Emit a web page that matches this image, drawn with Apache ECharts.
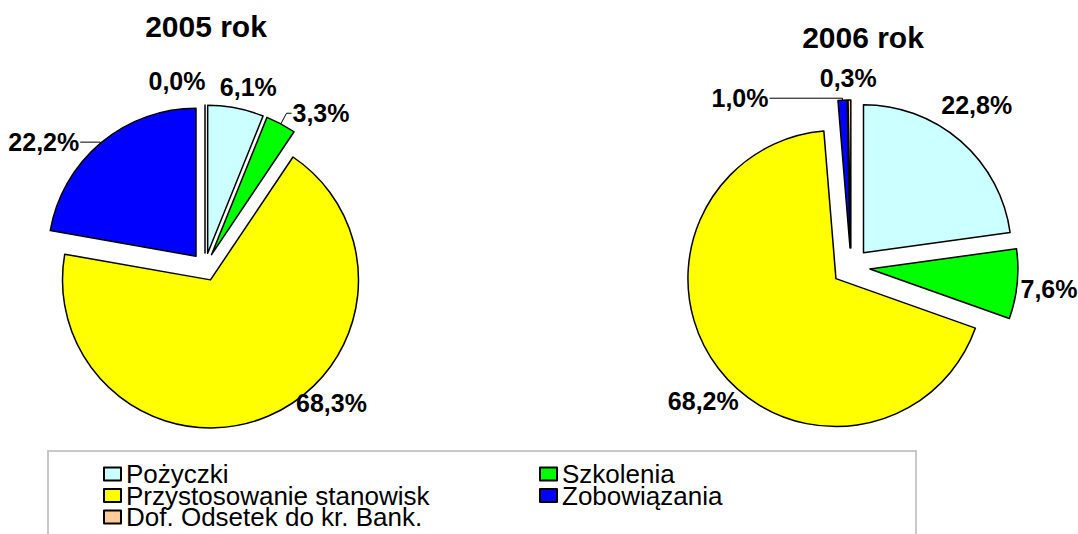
<!DOCTYPE html>
<html><head><meta charset="utf-8">
<script src="https://cdn.jsdelivr.net/npm/echarts@6/dist/echarts.min.js"></script>
<style>html,body{margin:0;padding:0;background:#fff}#c{width:1078px;height:534px}</style>
</head><body><div id="c"></div>
<script>
// ---- data ----
const categories = ['Pożyczki', 'Szkolenia', 'Przystosowanie stanowisk', 'Zobowiązania', 'Dof. Odsetek do kr. Bank.'];
const years = ['2005 rok', '2006 rok'];
const values2005 = [6.1, 3.3, 68.3, 22.2, 0.0];
const values2006 = [22.8, 7.6, 68.2, 1.0, 0.3];
const legendCol1 = ['Pożyczki', 'Przystosowanie stanowisk', 'Dof. Odsetek do kr. Bank.'];
const legendCol2 = ['Szkolenia', 'Zobowiązania'];

// ---- styling / layout ----
const colors = ['#CCFFFF', '#00FF00', '#FFFF00', '#0000FF', '#FFCC99'];
const FONT = '"Liberation Sans", Arial, sans-serif';
// lines: items drawn with a native leader line (length = radial part, length2 = horizontal part)
// others: label centred at the radial position, nudged by [dx, dy]
const pies = [
  { values: values2005, center: [205, 267], offset: 14,
    lengths: [23, 12, 23, 1, 26],
    lengths2: [0, 5, 0, 20, 0],
    nudge: [[7, 2], [0, 0], [53, -34], [0, 0], [-27, 2]],
    lines: [false, true, false, true, false] },
  { values: values2006, center: [851, 267], offset: 19,
    lengths: [38, 31, 32, 2, 22],
    lengths2: [0, 0, 0, 73, 0],
    nudge: [[-10, -7], [0, 2], [11, 13], [0, 0], [0, 0]],
    lines: [false, false, false, true, false] }
];

function fmt(v) { return v.toFixed(1).replace('.', ',') + '%'; }

const series = pies.map((p, si) => ({
  type: 'pie',
  name: years[si],
  center: p.center,
  radius: 148,
  startAngle: 90,
  clockwise: true,
  avoidLabelOverlap: false,
  selectedMode: 'multiple',
  selectedOffset: p.offset,
  emphasis: { disabled: true },
  itemStyle: { borderColor: '#000', borderWidth: 1.5 },
  label: {
    show: true, position: 'outside', distanceToLabelLine: 1,
    formatter: (prm) => fmt(prm.value),
    fontFamily: FONT, fontWeight: 'bold', fontSize: 25, color: '#000'
  },
  labelLine: { show: false, length2: 0, lineStyle: { color: '#000', width: 1 } },
  labelLayout: (prm) => {
    const cfg = pies[prm.seriesIndex];
    if (cfg.lines[prm.dataIndex]) return {};
    const n = cfg.nudge[prm.dataIndex];
    return { align: 'center', verticalAlign: 'middle', dx: n[0], dy: n[1] };
  },
  data: categories.map((name, i) => ({
    name: name,
    value: p.values[i],
    selected: true,
    itemStyle: { color: colors[i] },
    labelLine: { show: p.lines[i], length: p.lengths[i], length2: p.lengths2[i], smooth: false }
  }))
}));

const legendBase = {
  orient: 'vertical', top: 461, padding: 0, height: 120,
  itemWidth: 17, itemHeight: 13, itemGap: -4.5, icon: 'rect',
  selectedMode: false,
  textStyle: { fontFamily: FONT, fontSize: 26, lineHeight: 22, color: '#000' }
};

const chart = echarts.init(document.getElementById('c'), null, { renderer: 'svg' });
chart.setOption({
  animation: false,
  backgroundColor: '#fff',
  legend: [
    Object.assign({}, legendBase, { left: 103, data: legendCol1 }),
    Object.assign({}, legendBase, { left: 539, data: legendCol2 })
  ],
  graphic: [
    { type: 'text', x: 206, y: 26, style: { text: years[0], font: 'bold 30px ' + FONT, fill: '#000', align: 'center', verticalAlign: 'middle' } },
    { type: 'text', x: 863, y: 37, style: { text: years[1], font: 'bold 30px ' + FONT, fill: '#000', align: 'center', verticalAlign: 'middle' } },
    { type: 'rect', z: -10, shape: { x: 48, y: 451, width: 868, height: 120 }, style: { fill: 'none', stroke: '#c8c8c8', lineWidth: 2 } }
  ],
  series: series
});
</script>
</body></html>
